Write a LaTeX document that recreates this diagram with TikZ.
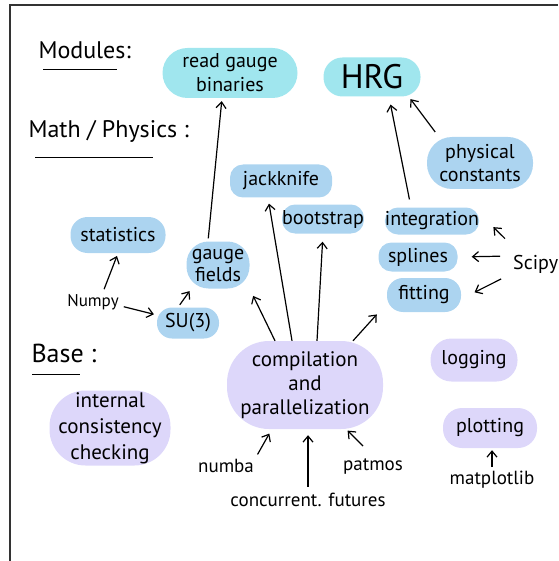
\documentclass[tikz,border=0pt]{standalone}
\usepackage{fontspec}
\setmainfont{PT Sans}
\usetikzlibrary{arrows.meta}

\definecolor{modcyan}{RGB}{160,230,238}
\definecolor{mathblue}{RGB}{172,212,240}
\definecolor{basepurple}{RGB}{221,215,250}

\tikzset{
  blob/.style={rectangle, rounded corners=13pt, inner sep=0pt, align=center,
    font=\fontsize{20}{24}\selectfont},
  modblob/.style={blob, fill=modcyan},
  mathblob/.style={blob, fill=mathblue},
  baseblob/.style={blob, fill=basepurple},
  heading/.style={anchor=west, font=\fontsize{24}{28}\selectfont},
  lib/.style={inner sep=2pt, font=\fontsize{19}{22}\selectfont},
  dep/.style={-{Straight Barb[length=6pt,width=10pt]}, line width=1.2pt,
    shorten >=3pt, shorten <=3pt},
}

\begin{document}
\begin{tikzpicture}[x=1pt, y=-1pt]
        \useasboundingbox (0,0) rectangle (558,561);
        % Frame
        \draw[line width=1.3pt, black!80] (10,561) -- (10,5) -- (558,5);

        % Headings
        \node[heading] (modules) at (35,50) {Modules:};
        \draw[line width=1pt] (43,70) -- (117,70);
        \node[heading] (mathphys) at (25,131) {Math / Physics :};
        \draw[line width=1pt] (35,158) -- (153,158);
        \node[heading, font=\fontsize{26}{30}\selectfont] (base) at (28,353) {Base :};
        \draw[line width=1pt] (32,374) -- (80,374);

        % Modules
        \node[modblob, minimum width=135pt, minimum height=50pt, rounded corners=25pt] (rgb) at (230,73) {read gauge\\binaries};
        \node[modblob, minimum width=97pt, minimum height=39pt, rounded corners=19pt, font=\fontsize{34}{36}\selectfont] (hrg) at (372,77) {HRG};

        % Math / Physics
        \node[mathblob, minimum width=102pt, minimum height=33pt] (jk) at (281,181) {jackknife};
        \node[mathblob, minimum width=81pt, minimum height=29pt] (boot) at (323,219) {bootstrap};
        \node[mathblob, minimum width=95pt, minimum height=36pt, rounded corners=17pt] (stats) at (118,235) {statistics};
        \node[mathblob, minimum width=63pt, minimum height=47pt, rounded corners=22pt, font=\fontsize{20}{22}\selectfont] (gf) at (218,265) {gauge\\fields};
        \node[mathblob, minimum width=62pt, minimum height=31pt, rounded corners=15pt] (su3) at (188,323) {SU(3)};
        \node[mathblob, minimum width=106pt, minimum height=52pt, rounded corners=25pt, font=\fontsize{20}{23}\selectfont] (phys) at (480,163) {physical\\constants};
        \node[mathblob, minimum width=92pt, minimum height=27pt] (integ) at (432,221) {integration};
        \node[mathblob, minimum width=79pt, minimum height=29pt] (spl) at (418,257) {splines};
        \node[mathblob, minimum width=74pt, minimum height=34pt, rounded corners=16pt] (fit) at (424,295) {fitting};

        % Base
        \node[baseblob, minimum width=156pt, minimum height=88pt, rounded corners=42pt, font=\fontsize{21}{24}\selectfont] (comp) at (305,385) {compilation\\and\\parallelization};
        \node[baseblob, minimum width=87pt, minimum height=43pt, rounded corners=21pt] (logging) at (474,360) {logging};
        \node[baseblob, minimum width=121pt, minimum height=75pt, rounded corners=36pt, font=\fontsize{21}{26}\selectfont] (icc) at (110,428) {internal\\consistency\\checking};
        \node[baseblob, minimum width=94pt, minimum height=40pt, rounded corners=19pt] (plot) at (490,428) {plotting};

        % Libraries
        \node[lib, font=\fontsize{17}{20}\selectfont] (numpy) at (93,302) {Numpy};
        \node[lib, anchor=west, font=\fontsize{20}{22}\selectfont] (scipy) at (511,264) {Scipy};
        \node[lib] (numba) at (226,466) {numba};
        \node[lib] (cf) at (308,500) {concurrent. futures};
        \node[lib] (patmos) at (373,466) {patmos};
        \node[lib] (mpl) at (492,480) {matplotlib};

        % Connections
        \draw[dep] ([xshift=-10pt]gf.north) -- ([xshift=-8pt]rgb.south);
        \draw[dep] ([xshift=10pt]numpy.north) -- (stats.south);
        \draw[dep] ([yshift=-4pt]numpy.east) -- ([yshift=8pt]su3.west);
        \draw[dep] ([xshift=-10pt]su3.north) -- ([xshift=5pt]gf.south west);
        \draw[dep, shorten <=0pt, shorten >=8pt] ([xshift=-30pt]comp.north) -- (gf.south east);
        \draw[dep, shorten <=0pt, shorten >=6pt] ([xshift=-13pt]comp.north) -- ([xshift=-13pt]jk.south);
        \draw[dep, shorten <=0pt, shorten >=8pt] ([xshift=12pt]comp.north) -- (boot.south);
        \draw[dep, shorten <=0pt] ([xshift=48pt]comp.north) -- ([xshift=-8pt]fit.south west);
        \draw[dep, shorten <=8pt, shorten >=8pt] ([xshift=-21pt]integ.north) -- ([xshift=17pt]hrg.south);
        \draw[dep, shorten <=6pt] ([xshift=12pt]phys.north west) -- ([xshift=-12pt]hrg.south east);
        \draw[dep, shorten <=0pt] ([xshift=-6pt,yshift=14pt]scipy.north west) -- ([xshift=12pt,yshift=-4pt]integ.east);
        \draw[dep, shorten <=11pt, shorten >=14pt] ([yshift=8pt]scipy.west) -- (spl.east);
        \draw[dep, shorten <=11pt, shorten >=6pt] ([yshift=-10pt]scipy.west) -- ([xshift=8pt]fit.east);
        \draw[dep, shorten >=5pt] (numba.north east) -- ([xshift=45pt]comp.south west);
        \draw[dep, shorten <=4pt, shorten >=6pt] (cf.north) -- (cf.north |- comp.south);
        \draw[dep, shorten <=0pt, shorten >=2pt] ([xshift=-10pt,yshift=10pt]patmos.north) -- ([xshift=-37pt]comp.south east);
        \draw[dep, shorten <=2pt, shorten >=2pt] (mpl.north) -- (mpl.north |- plot.south);
    \end{tikzpicture}
\end{document}
